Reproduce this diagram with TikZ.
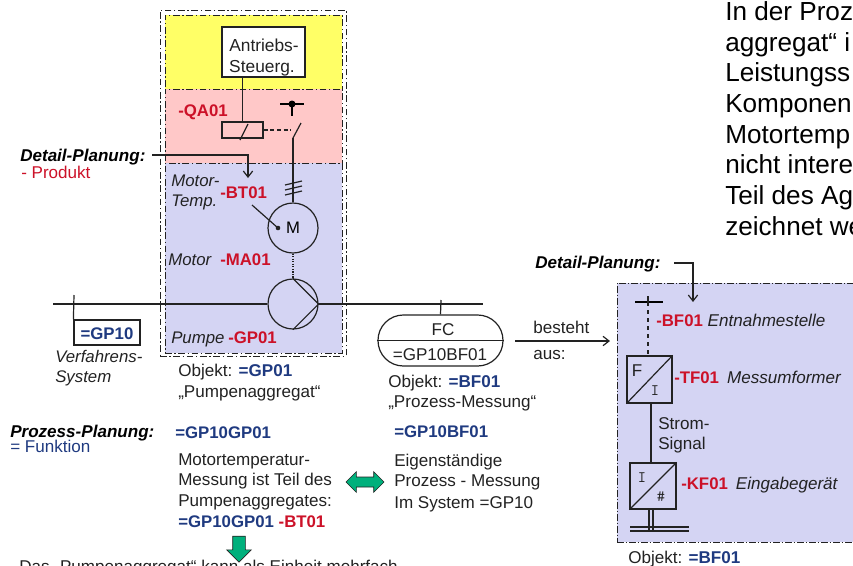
\documentclass[tikz,border=0pt]{standalone}
\usepackage{fontspec}
\setmainfont{Liberation Sans}
\usetikzlibrary{fit,arrows.meta,shapes.arrows,calc}
\definecolor{navy}{HTML}{1F3A80}
\definecolor{redt}{HTML}{CC1128}
\definecolor{bluef}{HTML}{D4D4F3}
\definecolor{pinkf}{HTML}{FFC8C8}
\definecolor{yellowf}{HTML}{FFFF66}
\definecolor{greenf}{HTML}{00B07C}
\definecolor{ink}{HTML}{222222}
\newcommand{\rdf}{\fontsize{12.6}{15}\selectfont\bfseries}
\tikzset{
  tx/.style={anchor=base west,inner sep=0pt,yshift=-.75pt,font=\fontsize{12.8}{15}\selectfont,text=ink},
  bl/.style={font=\fontsize{12.6}{15}\selectfont\bfseries,text=navy},
  rd/.style={font=\rdf,text=redt},
  it/.style={font=\fontsize{12.6}{15}\selectfont\itshape,text=ink},
  plan/.style={font=\fontsize{12.8}{15}\selectfont\bfseries\itshape,text=black},
  para/.style={anchor=base west,inner sep=0pt,font=\fontsize{19.6}{23}\selectfont,text=black},
  ddash/.style={dash pattern=on 5pt off 2pt on 1pt off 2pt,line width=.7pt},
  band/.style={inner sep=0pt,draw=ink,ddash},
  boxn/.style={draw=ink,line width=.9pt,inner sep=0pt,fill=white},
  ln/.style={draw=ink,line width=.9pt},
  arr/.style={ln,-{Straight Barb[length=4.5pt,width=7pt]}},
  sym/.style={draw=ink,line width=.9pt,circle,inner sep=0pt,minimum size=37.5pt},
  garrow/.style={draw=ink,fill=greenf,line width=.5pt},
}
\begin{document}
\begin{tikzpicture}[x=0.75pt,y=-0.75pt]
\useasboundingbox (0,0) rectangle (853,565);
\clip (0,0) rectangle (853,565);

% left cabinet bands
\node[band,fill=yellowf,fit={(165,15)(342,89)}] (yband) {};
\node[band,fill=pinkf,fit={(165,89)(342,163)}] (pband) {};
\node[band,fill=bluef,fit={(165,163)(342,353)}] (bband) {};
\node[draw=ink,ddash,inner sep=0pt,fit={(160,10)(346,356)}] (outer) {};

% process line
\coordinate (lineL) at (53,304);
\coordinate (lineR) at (483,304);
\node[sym] (motor) at (293,228) {\fontsize{12.5}{15}\selectfont M};
\node[sym] (pump) at (293,304) {};
\draw[ln] (lineL) -- (pump.west);
\draw[ln] (pump.east) -- (lineR);
\draw[ln] (pump.north) -- (pump.east) -- (pump.south);
\draw[ln,densely dotted] (motor.south) -- (pump.north);

% drive control
\node[boxn,fit={(222,27)(305,77)}] (steuer) {};
\node[tx,anchor=base,font=\fontsize{13}{15}\selectfont] (st1a) at (264,50) {Antriebs-};
\node[tx,anchor=base,font=\fontsize{13}{15}\selectfont] (st2a) at (262,71) {Steuerg.};
\node[draw=ink,line width=.9pt,inner sep=0pt,fit={(222,122)(263,138)}] (coil) {};
\draw[ln] (steuer.south -| coil.north) -- (coil.north);
\draw[ln] (240,140) -- (248,124);
\coordinate (swA) at (293,138);
\coordinate (swB) at (301,123);
\draw[ln,densely dashed] (coil.east) -- (291,130);
\draw[ln] (swA) -- (swB);
\draw[ln] (swA) -- (motor.north);
\coordinate (tL) at (280,104);
\coordinate (tR) at (304,104);
\coordinate (tB) at (292,116);
\draw[draw=black,line width=1.6pt] (tL) -- (tR);
\draw[draw=black,line width=1.6pt] (292,104) -- (tB);
\fill[black] (292,104) circle (3.5);
\foreach \yy in {183,188,193} \draw[ln] (285,\yy+2) -- (302,\yy-2);
\coordinate (tempS) at (252,205);
\fill[ink] (278,228) circle (2.3) coordinate (tempE);
\draw[ln] (tempS) -- (tempE);

% cabinet texts
\node[tx,rd] (qa) at (178,115) {-QA01};
\node[tx,it] (mt1) at (171,185) {Motor-};
\node[tx,it] (mt2) at (171,205) {Temp.};
\node[tx,rd] (bt) at (220,197) {-BT01};
\node[tx,it] (mo) at (168,264) {Motor};
\node[tx,rd] (ma) at (220,264) {-MA01};
\node[tx,it] (pu) at (171,342) {Pumpe};
\node[tx,rd] (gp) at (228,342) {-GP01};

% left annotations
\node[tx,plan] (dp1) at (20,160) {Detail-Planung:};
\node[tx,text=redt] (prod) at (21,177) {- Produkt};
\coordinate (dp1e) at (152,155);
\coordinate (dp1t) at (248,178);
\draw[arr] (dp1e) -| (dp1t);

% system box
\coordinate (sysT) at (74,295);
\node[boxn,fit={(74,320)(140,345)}] (sys) {};
\node[tx,bl,anchor=base] (sysl) at (107,338) {=GP10};
\draw[ln] (sysT) -- (sys.north west);
\node[tx,it] (vs1) at (55,361) {Verfahrens-};
\node[tx,it] (vs2) at (55,381) {System};

% object text, left column
\node[tx] (ob1) at (178,375) {Objekt: \textcolor{navy}{\bfseries =GP01}};
\node[tx] (ob2) at (178,396) {„Pumpenaggregat“};
\node[tx,plan] (pp) at (10,436) {Prozess-Planung:};
\node[tx,text=navy] (fk) at (10,451) {= Funktion};
\node[tx,bl] (g1) at (175,437) {=GP10GP01};
\node[tx] (m1) at (178,464) {Motortemperatur-};
\node[tx] (m2) at (178,484) {Messung ist Teil des};
\node[tx] (m3) at (178,505) {Pumpenaggregates:};
\node[tx,bl] (m4) at (178,526) {=GP10GP01 \textcolor{redt}{-BT01}};
\node[tx] (bot) at (19,571) {Das „Pumpenaggregat“ kann als Einheit mehrfach};

% green arrows
\node[garrow,double arrow,double arrow head extend=4pt,inner sep=3.5pt,minimum height=28.5pt] (ga1) at (365,482) {};
\node[garrow,single arrow,single arrow head extend=4.5pt,inner sep=4.5pt,shape border rotate=270,minimum height=19.5pt] (ga2) at (239,546) {};

% FC bubble
\node[draw=ink,line width=.9pt,rounded corners=19pt,inner sep=0pt,fit={(378,315)(503,366)}] (fc) {};
\coordinate (fcT) at (441,300);
\draw[ln] (fcT) -- (fc.north);
\draw[ln] (fc.west) -- (fc.east);
\node[tx,anchor=base] (fc1) at (443,334) {FC};
\node[tx,anchor=base] (fc2) at (440,359) {=GP10BF01};
\node[tx] (b1) at (533,332) {besteht};
\node[tx] (b2) at (533,358) {aus:};
\node[tx] (ob3) at (388,386) {Objekt: \textcolor{navy}{\bfseries =BF01}};
\node[tx] (ob4) at (388,406) {„Prozess-Messung“};
\node[tx,bl] (g2) at (394,436) {=GP10BF01};
\node[tx] (e1) at (394,465) {Eigenständige};
\node[tx] (e2) at (394,485) {Prozess - Messung};
\node[tx] (e3) at (394,507) {Im System =GP10};

% right panel
\node[draw=ink,dash pattern=on 5pt off 1.5pt on 1pt off 1.5pt,line width=.6pt,fill=bluef,inner sep=0pt,fit={(617,283)(870,542)}] (panel) {};
\coordinate (bE) at (515,341);
\coordinate (bT) at (610,341);
\draw[arr] (bE) -- (bT);
\node[tx,plan] (dp2) at (535,267) {Detail-Planung:};
\coordinate (dp2e) at (674,263);
\coordinate (dp2t) at (693,302);
\draw[arr] (dp2e) -| (dp2t);
\coordinate (epL) at (635,302);
\coordinate (epR) at (663,302);
\coordinate (epT) at (648,296);
\draw[black,line width=1.5pt] (epL) -- (epR);
\draw[ln] (epT) -- (648,302);
\node[draw=ink,line width=.9pt,inner sep=0pt,fit={(627,356)(672,403)}] (tf) {};
\node[draw=ink,line width=.9pt,inner sep=0pt,fit={(630,463)(676,509)}] (kf) {};
\draw[ln] (tf.south west) -- (tf.north east);
\draw[ln] (kf.south west) -- (kf.north east);
\draw[ln,dashed] (epT |- epL) -- (epT |- tf.north);
\draw[ln] (651,403) -- (651,463);
\coordinate (busL) at (630,527);
\coordinate (busR) at (689,527);
\coordinate (busL2) at (630,531);
\coordinate (busR2) at (689,531);
\draw[ln] (busL) -- (busR);
\draw[ln] (busL2) -- (busR2);
\draw[ln] (649,509) -- (649,531);
\draw[ln] (653,509) -- (653,531);
\node[tx,anchor=base] (lF) at (637,375) {F};
\node[tx,anchor=base,font=\fontsize{12}{14}\ttfamily] (lI) at (655,394) {I};
\node[tx,anchor=base,font=\fontsize{12}{14}\ttfamily] (lI2) at (642,481) {I};
\node[tx,anchor=base,font=\fontsize{12}{14}\ttfamily] (lH) at (661,500) {\#};
\node[tx] (bf) at (656,325) {\textcolor{redt}{\rdf -BF01} \textit{Entnahmestelle}};
\node[tx] (tfl) at (674,382) {\textcolor{redt}{\rdf -TF01}\hspace{6pt}\textit{Messumformer}};
\node[tx] (kfl) at (681,488) {\textcolor{redt}{\rdf -KF01}\hspace{6pt}\textit{Eingabegerät}};
\node[tx] (st1) at (658,428) {Strom-};
\node[tx] (st2) at (658,448) {Signal};
\node[tx] (ob5) at (628,562) {Objekt: \textcolor{navy}{\bfseries =BF01}};

% cut-off paragraph
\node[para] (p1) at (725,20.7) {In der Proz};
\node[para] (p2) at (725,51.3) {aggregat“ i};
\node[para] (p3) at (725,81.9) {Leistungss};
\node[para] (p4) at (725,112.5) {Komponen};
\node[para] (p5) at (725,143) {Motortemp};
\node[para] (p6) at (725,173.7) {nicht intere};
\node[para] (p7) at (725,204.3) {Teil des Ag};
\node[para] (p8) at (725,235) {zeichnet we};
\end{tikzpicture}
\end{document}
